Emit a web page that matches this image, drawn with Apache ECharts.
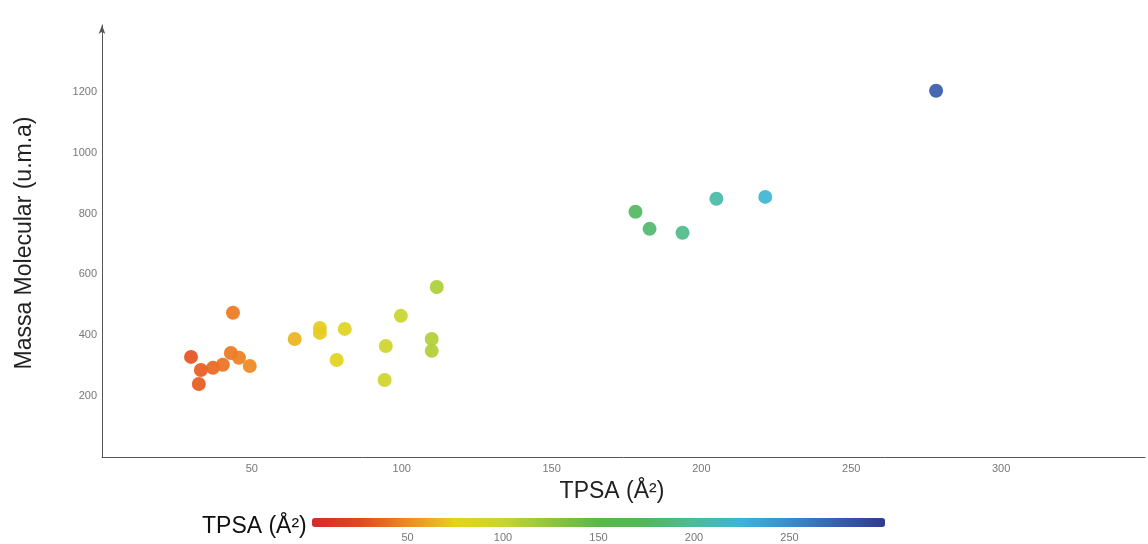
<!DOCTYPE html>
<html>
<head>
<meta charset="utf-8">
<script src="https://cdn.jsdelivr.net/npm/echarts@6/dist/echarts.min.js"></script>
<style>html,body{margin:0;padding:0;background:#fff}#c{width:1148px;height:544px}</style>
</head>
<body>
<div id="c"></div>
<script>
// TPSA (Å²) values
const tpsa = [278.3, 221.3, 205.0, 178.0, 182.7, 193.7, 111.7, 99.7, 110.0, 110.0, 94.7, 94.3, 81.0, 72.7, 72.7, 64.3, 78.3, 43.7, 29.7, 32.3, 33.0, 37.0, 40.3, 43.0, 45.7, 49.3];
// Massa Molecular (u.m.a)
const mass = [1204, 855, 849, 806, 750, 737, 559, 464, 388, 349, 365, 253, 421, 424, 408, 388, 319, 474, 329, 240, 286, 293, 303, 342, 326, 299];
const xTicks = [50, 100, 150, 200, 250, 300];
const yTicks = [200, 400, 600, 800, 1000, 1200];
const barTicks = [50, 100, 150, 200, 250];
const colorStops = ['#d62a2a', '#e4461f', '#ef8a1f', '#e6d21e', '#c8d52e', '#8ec63c', '#5ab848', '#52b85a', '#4cbc98', '#3ab4dc', '#3a8ccc', '#3660ae', '#2f3a8e'];

const points = tpsa.map((t, i) => [t, mass[i]]);
const chart = echarts.init(document.getElementById('c'), null, {renderer: 'canvas'});
const tickFont = {color: '#777', fontSize: 11, fontFamily: 'Liberation Sans Narrow, Liberation Sans, Arial'};
chart.setOption({
  animation: false,
  backgroundColor: '#fff',
  grid: [
    {left: 102, right: 3, top: 25, bottom: 87, containLabel: false},
    {left: 312, width: 573, top: 518, height: 9}
  ],
  xAxis: [{
    type: 'value', gridIndex: 0, min: 0, max: 348, interval: 50,
    splitLine: {show: false},
    axisTick: {show: false},
    axisLine: {show: true, lineStyle: {color: '#555', width: 1}},
    axisLabel: Object.assign({margin: 6, showMinLabel: false, showMaxLabel: false,
      formatter: v => xTicks.includes(v) ? String(v) : ''}, tickFont)
  }, {
    type: 'value', gridIndex: 1, min: 0, max: 300, interval: 50,
    splitLine: {show: false}, axisTick: {show: false},
    axisLine: {show: false},
    axisLabel: Object.assign({margin: 5, formatter: v => barTicks.includes(v) ? String(v) : ''}, tickFont)
  }],
  yAxis: [{
    type: 'value', gridIndex: 0, min: 0, max: 1420, interval: 200,
    splitLine: {show: false},
    axisTick: {show: false},
    axisLine: {show: true, symbol: ['none', 'arrow'], symbolSize: [5, 9], lineStyle: {color: '#555', width: 1}},
    axisLabel: Object.assign({margin: 5, showMinLabel: false, showMaxLabel: false,
      formatter: v => yTicks.includes(v) ? String(v) : ''}, tickFont)
  }, {
    type: 'value', gridIndex: 1, show: false, min: 0, max: 1
  }],
  visualMap: {
    type: 'continuous', seriesIndex: 0, dimension: 0, min: 0, max: 300,
    orient: 'horizontal', left: 312, top: 518, itemWidth: 9, itemHeight: 573,
    padding: 0, calculable: false, text: null, showLabel: false, hoverLink: false,
    inRange: {color: colorStops}
  },
  graphic: [{
    type: 'text', left: 202, top: 515,
    style: {text: 'TPSA (Å²)', fill: '#111', font: '23px "Liberation Sans", Arial'}
  }, {
    type: 'text', x: 612, y: 492,
    style: {text: 'TPSA (Å²)', fill: '#222', font: '23px "Liberation Sans", Arial', textAlign: 'center', textVerticalAlign: 'middle'}
  }, {
    type: 'text', x: 25, y: 243, rotation: Math.PI / 2,
    style: {text: 'Massa Molecular (u.m.a)', fill: '#222', font: '23px "Liberation Sans", Arial', textAlign: 'center', textVerticalAlign: 'middle'}
  }],
  series: [{
    type: 'scatter', xAxisIndex: 0, yAxisIndex: 0, data: points,
    symbolSize: 14, itemStyle: {opacity: 0.92}
  }, {
    type: 'scatter', xAxisIndex: 1, yAxisIndex: 1, data: [], silent: true
  }]
});
</script>
</body>
</html>
